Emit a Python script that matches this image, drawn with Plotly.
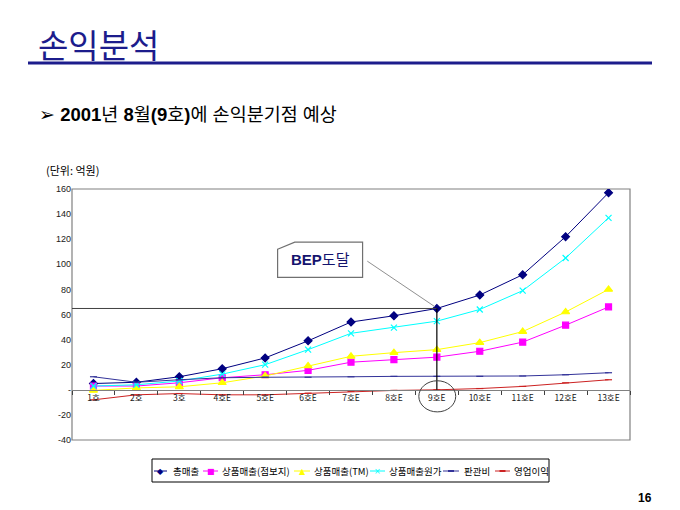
import plotly.graph_objects as go

# category labels (issue numbers, E = estimate)
issues = ["1호", "2호", "3호", "4호E", "5호E", "6호E", "7호E",
          "8호E", "9호E", "10호E", "11호E", "12호E", "13호E"]

# values in 억원
total_sales = [5, 6, 10.4, 16.8, 25.4, 39, 54, 59, 64.8, 75.5, 91.7, 122, 157]
sales_jumbo = [3, 3, 5.6, 9.6, 12, 15.5, 22, 24, 26, 30.7, 38, 51.5, 66]
sales_tm = [-0.5, 1.5, 2.4, 5.6, 11, 19, 26.7, 29.6, 32, 37.6, 46.4, 62, 80]
cost_of_sales = [3, 4, 7, 12.5, 20, 32, 45, 49.6, 54.7, 64, 79, 105, 137]
sga = [10.4, 6, 8, 9.6, 10, 10, 10.4, 10.7, 10.7, 10.7, 11, 12, 13.6]
op_income = [-8, -4, -3, -4, -4, -2.7, -1.3, -0.5, 0, 1, 2.7, 5.6, 8]

y_ticks = [-40, -20, 0, 20, 40, 60, 80, 100, 120, 140, 160]
y_tick_text = ["-40", "-20", "-", "20", "40", "60", "80", "100", "120", "140", "160"]

bep_index = 8  # 9호E

FONT_KR = "Noto Sans CJK KR"
FONT_NUM = "Liberation Sans, Arial, " + FONT_KR

# name, values, colour, marker symbol, marker size, legend glyph
series = [
	("총매출", total_sales, "#000080", "diamond", 6, "◆"),
	("상품매출(점보지)", sales_jumbo, "#FF00FF", "square", 6, "■"),
	("상품매출(TM)", sales_tm, "#FFFF00", "triangle-up", 7, "▲"),
	("상품매출원가", cost_of_sales, "#00FFFF", "x-thin-open", 6, "×"),
	("판관비", sga, "#333399", "line-ew-open", 5, ""),
	("영업이익", op_income, "#CC2222", "line-ew-open", 5, ""),
]

# plot area in page pixels (page body has an 8px margin)
PL, PR, PT, PB = 72, 630, 189, 440

def px(x):
	return (x - PL) / (PR - PL)

def py(y):
	return (PB - y) / (PB - PT)

fig = go.Figure()

for name, values, color, symbol, size, glyph in series:
	fig.add_trace(go.Scatter(
		x = issues,
		y = values,
		name = name,
		mode = "lines+markers",
		line = dict(color = color, width = 1),
		marker = dict(symbol = symbol, size = size, color = color,
			line = dict(color = color, width = 1.2)),
	))

bep_x = issues[bep_index]
bep_y = total_sales[bep_index]

shapes = [
	# plot border
	dict(type = "rect", xref = "paper", yref = "paper", x0 = 0, x1 = 1, y0 = 0, y1 = 1,
		line = dict(color = "#808080", width = 1.2), layer = "below"),
	# BEP guide lines
	dict(type = "line", xref = "paper", yref = "y", x0 = 0, x1 = (bep_index + 0.5) / len(issues),
		y0 = bep_y, y1 = bep_y, line = dict(color = "#404040", width = 1)),
	dict(type = "line", xref = "x", yref = "y", x0 = bep_index, x1 = bep_index,
		y0 = bep_y, y1 = 0, line = dict(color = "#000000", width = 1.2)),
	# ellipse around 9호E
	dict(type = "circle", xref = "x", yref = "y", x0 = bep_index - 0.42, x1 = bep_index + 0.44,
		y0 = -17.6, y1 = 7.2, line = dict(color = "#404040", width = 1)),
	# callout box with cut corner
	dict(type = "path", xref = "x", yref = "y",
		path = "M 4.29 112 L 4.69 117.6 L 6.27 117.6 L 6.27 89.6 L 4.29 89.6 Z",
		fillcolor = "white", line = dict(color = "#707070", width = 1.2)),
	# callout pointer
	dict(type = "line", xref = "x", yref = "y", x0 = 6.38, y0 = 102.5,
		x1 = bep_index - 0.05, y1 = bep_y + 1.5, line = dict(color = "#909090", width = 1)),
	# navy rule under the page title
	dict(type = "line", xref = "paper", yref = "paper", x0 = px(28), x1 = px(652),
		y0 = py(63), y1 = py(63), line = dict(color = "#1C1C8C", width = 3)),
	# legend box
	dict(type = "rect", xref = "paper", yref = "paper", x0 = px(152), x1 = px(549),
		y0 = py(459), y1 = py(482), line = dict(color = "#000000", width = 1)),
]

annotations = [
	dict(text = "손익분석", xref = "paper", yref = "paper", x = px(36), y = py(44),
		xanchor = "left", yanchor = "middle", showarrow = False,
		font = dict(family = FONT_KR, size = 33, color = "#1C1C8C")),
	dict(text = "➢ <b>2001</b>년 <b>8</b>월<b>(9</b>호<b>)</b>에 손익분기점 예상",
		xref = "paper", yref = "paper", x = px(37), y = py(114),
		xanchor = "left", yanchor = "middle", showarrow = False,
		font = dict(family = FONT_NUM, size = 18.5, color = "#000000")),
	dict(text = "(단위: 억원)", xref = "paper", yref = "paper", x = px(44), y = py(170),
		xanchor = "left", yanchor = "middle", showarrow = False,
		font = dict(family = FONT_KR, size = 11, color = "#000000")),
	dict(text = "<b>BEP</b>도달", xref = "x", yref = "y", x = 5.28, y = 103.6,
		xanchor = "center", yanchor = "middle", showarrow = False,
		font = dict(family = FONT_NUM, size = 15, color = "#14146E")),
	dict(text = "<b>16</b>", xref = "paper", yref = "paper", x = px(645), y = py(498),
		xanchor = "center", yanchor = "middle", showarrow = False,
		font = dict(family = FONT_NUM, size = 12, color = "#000000")),
]

# hand-drawn legend (the native one is too wide for this layout)
legend_lines = [(154, 167), (203, 218), (294, 310), (370, 385), (443, 459), (495, 510)]
legend_text_x = [171, 220, 312, 387, 462, 512]
LEG_Y = 471
for (name, values, color, symbol, size, glyph), (x0, x1), tx in zip(series, legend_lines, legend_text_x):
	shapes.append(dict(type = "line", xref = "paper", yref = "paper", x0 = px(x0), x1 = px(x1),
		y0 = py(LEG_Y), y1 = py(LEG_Y), line = dict(color = color, width = 1)))
	if glyph:
		annotations.append(dict(text = glyph, xref = "paper", yref = "paper",
			x = px((x0 + x1) / 2), y = py(LEG_Y), xanchor = "center", yanchor = "middle",
			showarrow = False, font = dict(family = "DejaVu Sans", size = 8, color = color)))
	else:
		shapes.append(dict(type = "line", xref = "paper", yref = "paper",
			x0 = px((x0 + x1) / 2 - 3), x1 = px((x0 + x1) / 2 + 3),
			y0 = py(LEG_Y), y1 = py(LEG_Y), line = dict(color = color, width = 2)))
	annotations.append(dict(text = name, xref = "paper", yref = "paper",
		x = px(tx), y = py(LEG_Y), xanchor = "left", yanchor = "middle",
		showarrow = False, font = dict(family = FONT_KR, size = 9.5, color = "#000000")))

fig.update_layout(
	width = 672,
	height = 502,
	margin = dict(l = PL - 8, r = 672 + 8 - PR, t = PT - 8, b = 502 + 8 - PB),
	paper_bgcolor = "white",
	plot_bgcolor = "white",
	showlegend = False,
	xaxis = dict(
		type = "category",
		range = [-0.5, len(issues) - 0.5],
		anchor = "free",
		position = 40 / 200,
		showline = True,
		linecolor = "#808080",
		linewidth = 1.2,
		ticks = "outside",
		tickson = "boundaries",
		ticklen = 4,
		tickcolor = "#404040",
		showgrid = False,
		tickfont = dict(family = FONT_KR, size = 8.5, color = "#202020"),
		fixedrange = True,
	),
	yaxis = dict(
		range = [-40, 160],
		tickvals = y_ticks,
		ticktext = y_tick_text,
		showgrid = False,
		zeroline = False,
		showline = False,
		ticks = "",
		tickfont = dict(family = FONT_NUM, size = 9, color = "#202020"),
		fixedrange = True,
	),
	shapes = shapes,
	annotations = annotations,
)

fig.write_html("out.html")
